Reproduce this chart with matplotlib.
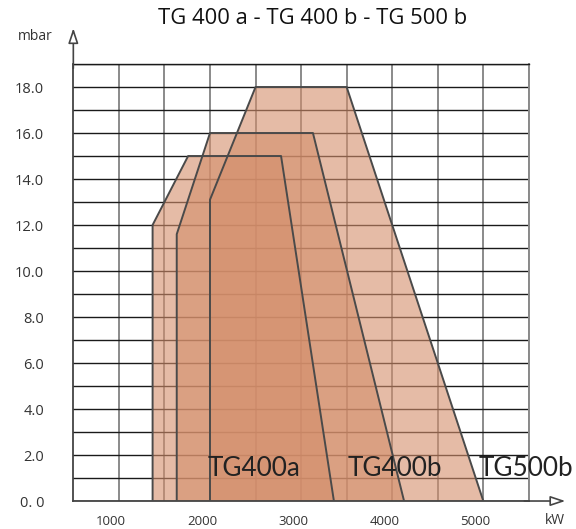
import numpy as np
import matplotlib
matplotlib.use('Agg')
import matplotlib.pyplot as plt
import matplotlib.transforms as mtransforms

# burner working ranges (kW vs mbar)
tg400a_kw = [1370, 1370, 1760, 2780, 3360]
tg400a_mbar = [0, 12.0, 15.0, 15.0, 0]
tg400b_kw = [1635, 1635, 2000, 3130, 4130]
tg400b_mbar = [0, 11.6, 16.0, 16.0, 0]
tg500b_kw = [2000, 2000, 2500, 3500, 5000]
tg500b_mbar = [0, 13.1, 18.0, 18.0, 0]

names = ['TG400a', 'TG400b', 'TG500b']
name_kw = [1975, 3515, 4950]

x_ticks = [1000, 2000, 3000, 4000, 5000]
y_ticks = [0, 2, 4, 6, 8, 10, 12, 14, 16, 18]
y_labels = ['0. 0'] + ['%.1f' % v for v in y_ticks[1:]]

plt.rcParams['font.family'] = ['Open Sans', 'DejaVu Sans']

fig = plt.figure(figsize=(5.76, 5.29), dpi=100)
ax = fig.add_axes([0.1273, 0.0529, 0.7909, 0.8261])

fill_col = '#D48E6B'
edge_col = '#4a4a4a'
for xs, ys in [(tg400a_kw, tg400a_mbar), (tg400b_kw, tg400b_mbar), (tg500b_kw, tg500b_mbar)]:
    ax.fill(xs, ys, facecolor=fill_col, alpha=0.6, edgecolor='none', zorder=2)
    ax.plot(xs, ys, color=edge_col, lw=1.4, zorder=3)

for n, xk in zip(names, name_kw):
    ax.text(xk, 1.1, n, fontsize=18.8, family=['Lato', 'DejaVu Sans'],
            color='#222222', va='baseline', ha='left', zorder=4)

ax.set_xlim(500, 5500)
ax.set_ylim(0, 19)
ax.set_xticks(x_ticks)
ax.set_xticks(np.arange(1500, 5501, 1000), minor=True)
ax.set_yticks(y_ticks)
ax.set_yticklabels(y_labels)
ax.set_yticks(np.arange(1, 20, 2), minor=True)
ax.grid(True, which='both', axis='x', color='#8a8a8a', lw=1.4, zorder=0)
ax.grid(True, which='both', axis='y', color='#1a1a1a', lw=1.0, zorder=0)
ax.set_axisbelow(True)

ax.tick_params(which='both', length=0)
ax.tick_params(axis='y', pad=21, labelsize=10.5, labelcolor='#333333')
ax.tick_params(axis='x', pad=10, labelsize=9.5, labelcolor='#333333')
shift = mtransforms.ScaledTranslation(-8 / 100, 0, fig.dpi_scale_trans)
for lab in ax.get_xticklabels():
    lab.set_transform(lab.get_transform() + shift)

ax.spines['top'].set_color('#1a1a1a')
ax.spines['top'].set_linewidth(1.0)
ax.spines['right'].set_color('#8a8a8a')
ax.spines['right'].set_linewidth(1.4)
ax.spines['left'].set_color('#444444')
ax.spines['left'].set_linewidth(1.3)
ax.spines['bottom'].set_color('#444444')
ax.spines['bottom'].set_linewidth(1.3)

# open arrow heads on the axes
arrow = dict(arrowstyle='-|>,head_length=0.9,head_width=0.3', fc='white',
             ec='#444444', lw=1.2, shrinkA=0, shrinkB=0)
ax.annotate('', xy=(0, 1.082), xytext=(0, 0.99), xycoords='axes fraction',
            arrowprops=arrow, annotation_clip=False)
ax.annotate('', xy=(1.08, 0), xytext=(0.99, 0), xycoords='axes fraction',
            arrowprops=arrow, annotation_clip=False)

fig.text(35 / 576, 1 - 37 / 529, 'mbar', fontsize=10, color='#333333',
         ha='center', va='center')
fig.text(555 / 576, 1 - 521 / 529, 'kW', fontsize=10, color='#333333',
         ha='center', va='center')
fig.text(313 / 576, 1 - 19 / 529, 'TG 400 a - TG 400 b - TG 500 b', fontsize=15.8,
         color='#111111', ha='center', va='center')

fig.savefig('out.png', dpi=100)
